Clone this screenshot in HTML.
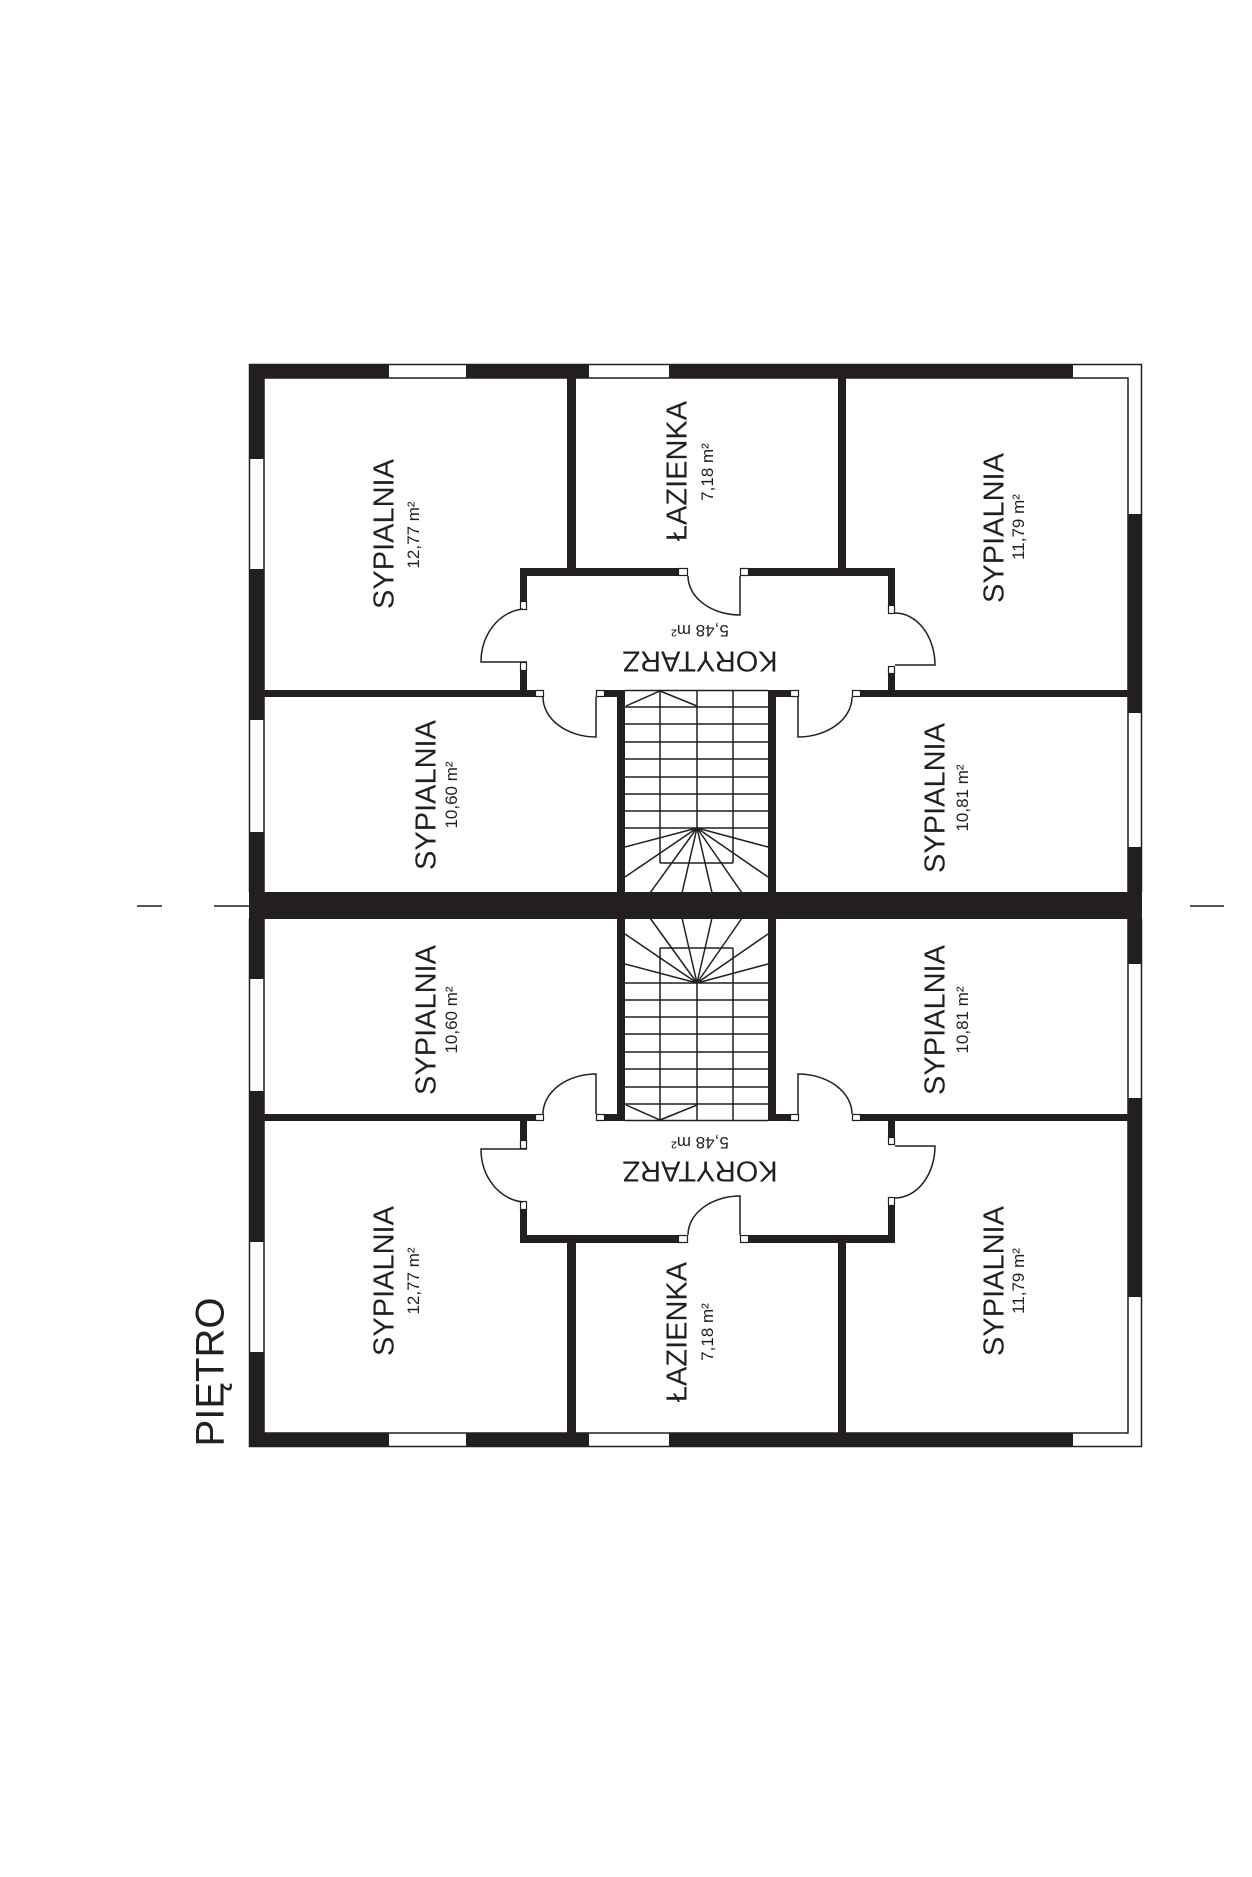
<!DOCTYPE html>
<html><head><meta charset="utf-8"><style>
html,body{margin:0;padding:0;background:#fff;}
svg{display:block;}
text{font-family:"Liberation Sans",sans-serif;fill:#231f20;}
</style></head><body>
<svg width="1252" height="1877" viewBox="0 0 1252 1877" xmlns="http://www.w3.org/2000/svg">
<defs>
<g id="half">
  <!-- outer outline lines -->
  <g fill="none" stroke="#231f20" stroke-width="1.5">
    <path d="M249.5 892 V364.5 H1141.5 V892"/>
    <path d="M264 892 V378 H1128 V892"/>
  </g>
  <g fill="#231f20">
    <!-- top wall -->
    <rect x="249" y="364" width="140" height="14"/>
    <rect x="466" y="364" width="123" height="14"/>
    <rect x="669" y="364" width="404" height="14"/>
    <!-- left wall -->
    <rect x="249" y="364" width="15" height="95"/>
    <rect x="249" y="569" width="15" height="151"/>
    <rect x="249" y="832" width="15" height="60"/>
    <!-- right wall -->
    <rect x="1128" y="514" width="14" height="199"/>
    <rect x="1128" y="847" width="14" height="45"/>
    <!-- interior walls -->
    <rect x="567" y="378" width="9" height="190"/>
    <rect x="838" y="378" width="8" height="190"/>
    <rect x="520" y="568" width="158" height="8"/>
    <rect x="748" y="568" width="147" height="8"/>
    <rect x="520" y="568" width="7" height="33"/>
    <rect x="520" y="670" width="7" height="27"/>
    <rect x="888" y="568" width="7" height="37"/>
    <rect x="888" y="673" width="7" height="24"/>
    <rect x="264" y="690" width="271" height="7"/>
    <rect x="604" y="690" width="21" height="7"/>
    <rect x="617" y="690" width="8" height="202"/>
    <rect x="768" y="690" width="8" height="202"/>
    <rect x="775" y="690" width="15" height="7"/>
    <rect x="860" y="690" width="268" height="7"/>
  </g>
  <!-- jambs -->
  <g fill="#fff" stroke="#231f20" stroke-width="1.2">
    <rect x="678.5" y="568.5" width="9" height="7"/>
    <rect x="740.5" y="568.5" width="8" height="7"/>
    <rect x="520.5" y="601.5" width="6" height="8"/>
    <rect x="520.5" y="662.5" width="6" height="8"/>
    <rect x="888.5" y="605.5" width="6" height="8"/>
    <rect x="888.5" y="666.5" width="6" height="7"/>
    <rect x="535.5" y="690.5" width="8" height="6"/>
    <rect x="596.5" y="690.5" width="8" height="6"/>
    <rect x="790.5" y="690.5" width="8" height="6"/>
    <rect x="852.5" y="690.5" width="8" height="6"/>
  </g>
  <!-- doors -->
  <g fill="none" stroke="#231f20" stroke-width="1.5">
    <path d="M688 576 A52 39 0 0 0 740 615 V576"/>
    <path d="M523 609 A46 53 0 0 0 481 662 H527"/>
    <path d="M895 613 A40 52 0 0 1 935 665 H895"/>
    <path d="M543 697 A53 40 0 0 0 596 737 V697"/>
    <path d="M852 697 A54 40 0 0 1 798 737 V697"/>
  </g>
  <!-- stairs -->
  <g fill="none" stroke="#231f20" stroke-width="1.5">
    <path d="M625 690.5 H768"/>
    <path d="M626 706 L660 691 L697 706"/>
    <path d="M660 690 V863 M733 690 V863 M660 863 H733 M697 690 V828"/>
    <path d="M625 707 H768 M625 724 H768 M625 742 H768 M625 759 H768 M625 777 H768 M625 794 H768 M625 811 H768 M625 828 H768"/>
    <path d="M697 828 L625 847 M697 828 L625 877 M697 828 L650 893 M697 828 L682 893 M697 828 L712 893 M697 828 L742 893 M697 828 L768 847 M697 828 L768 877"/>
  </g>
</g>
</defs>
<use href="#half"/>
<use href="#half" transform="translate(0,1811) scale(1,-1)"/>
<!-- divider -->
<rect x="249" y="892" width="893" height="27" fill="#231f20"/>
<!-- dashes -->
<g stroke="#231f20" stroke-width="1.5">
  <path d="M137 906 H162 M214 906 H249 M1190 906 H1224"/>
</g>
<!-- labels -->
<g font-size="29">
  <text transform="translate(383,534) rotate(-90)" y="10.5" text-anchor="middle">SYPIALNIA</text>
  <text transform="translate(676,471) rotate(-90)" y="10.5" text-anchor="middle">ŁAZIENKA</text>
  <text transform="translate(993,528) rotate(-90)" y="10.5" text-anchor="middle">SYPIALNIA</text>
  <text transform="translate(425,795) rotate(-90)" y="10.5" text-anchor="middle">SYPIALNIA</text>
  <text transform="translate(934,798) rotate(-90)" y="10.5" text-anchor="middle">SYPIALNIA</text>
  <text transform="translate(425,1020) rotate(-90)" y="10.5" text-anchor="middle">SYPIALNIA</text>
  <text transform="translate(934,1020) rotate(-90)" y="10.5" text-anchor="middle">SYPIALNIA</text>
  <text transform="translate(383,1281) rotate(-90)" y="10.5" text-anchor="middle">SYPIALNIA</text>
  <text transform="translate(676,1332) rotate(-90)" y="10.5" text-anchor="middle">ŁAZIENKA</text>
  <text transform="translate(993,1281) rotate(-90)" y="10.5" text-anchor="middle">SYPIALNIA</text>
  <text transform="translate(700,662) rotate(180)" y="10.5" text-anchor="middle">KORYTARZ</text>
  <text transform="translate(700,1172) rotate(180)" y="10.5" text-anchor="middle">KORYTARZ</text>
</g>
<g font-size="17">
  <text transform="translate(413,535) rotate(-90)" y="6" text-anchor="middle">12,77 m²</text>
  <text transform="translate(707,472) rotate(-90)" y="6" text-anchor="middle">7,18 m²</text>
  <text transform="translate(1018,527) rotate(-90)" y="6" text-anchor="middle">11,79 m²</text>
  <text transform="translate(451,795) rotate(-90)" y="6" text-anchor="middle">10,60 m²</text>
  <text transform="translate(962,798) rotate(-90)" y="6" text-anchor="middle">10,81 m²</text>
  <text transform="translate(451,1020) rotate(-90)" y="6" text-anchor="middle">10,60 m²</text>
  <text transform="translate(962,1020) rotate(-90)" y="6" text-anchor="middle">10,81 m²</text>
  <text transform="translate(413,1281) rotate(-90)" y="6" text-anchor="middle">12,77 m²</text>
  <text transform="translate(707,1332) rotate(-90)" y="6" text-anchor="middle">7,18 m²</text>
  <text transform="translate(1018,1281) rotate(-90)" y="6" text-anchor="middle">11,79 m²</text>
  <text transform="translate(700,631) rotate(180)" y="6" text-anchor="middle">5,48 m²</text>
  <text transform="translate(700,1143) rotate(180)" y="6" text-anchor="middle">5,48 m²</text>
</g>
<text transform="translate(209,1372) rotate(-90)" y="14.5" text-anchor="middle" font-size="40">PIĘTRO</text>
</svg>
</body></html>
